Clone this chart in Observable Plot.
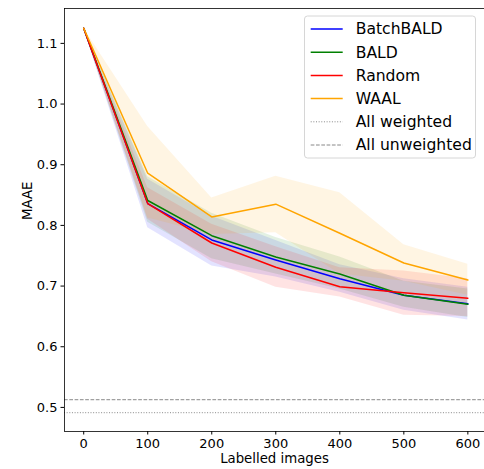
<!DOCTYPE html>
<html>
<head>
<meta charset="utf-8">
<script src="https://cdn.jsdelivr.net/npm/d3@7"></script>
<script src="https://cdn.jsdelivr.net/npm/@observablehq/plot@0.6"></script>
<style>
  html, body { margin: 0; padding: 0; background: #fff; }
  #wrap { position: relative; width: 484px; height: 469px; font-family: "DejaVu Sans", sans-serif; }
  #legend { position: absolute; left: 0; top: 0; }
</style>
</head>
<body>
<div id="wrap"><div id="chart"></div><svg id="legend" width="484" height="469"></svg></div>
<script>
const labelled = [0, 100, 200, 300, 400, 500, 600];
const seriesNames = ["BatchBALD", "BALD", "Random", "WAAL"];
const seriesColors = ["blue", "green", "red", "orange"];

const batchbaldMean = [1.125, 0.836, 0.776, 0.743, 0.712, 0.685, 0.671];
const batchbaldLo   = [1.125, 0.796, 0.733, 0.715, 0.690, 0.660, 0.644];
const batchbaldHi   = [1.125, 0.876, 0.815, 0.775, 0.735, 0.712, 0.698];

const baldMean = [1.125, 0.841, 0.783, 0.748, 0.720, 0.685, 0.670];
const baldLo   = [1.125, 0.805, 0.745, 0.720, 0.695, 0.665, 0.648];
const baldHi   = [1.125, 0.880, 0.820, 0.780, 0.748, 0.708, 0.695];

const randomMean = [1.125, 0.836, 0.771, 0.731, 0.699, 0.689, 0.680];
const randomLo   = [1.125, 0.810, 0.740, 0.698, 0.682, 0.652, 0.650];
const randomHi   = [1.125, 0.862, 0.802, 0.765, 0.730, 0.725, 0.712];

const waalMean = [1.125, 0.886, 0.814, 0.835, 0.787, 0.738, 0.710];
const waalLo   = [1.125, 0.812, 0.785, 0.788, 0.720, 0.708, 0.685];
const waalHi   = [1.125, 0.963, 0.845, 0.881, 0.854, 0.768, 0.736];

const allWeighted = 0.4913;
const allUnweighted = 0.5127;

const yTicks = [0.5, 0.6, 0.7, 0.8, 0.9, 1.0, 1.1];
const xTicks = [0, 100, 200, 300, 400, 500, 600];

const means = [batchbaldMean, baldMean, randomMean, waalMean];
const los = [batchbaldLo, baldLo, randomLo, waalLo];
const his = [batchbaldHi, baldHi, randomHi, waalHi];

const rows = [];
seriesNames.forEach((name, si) => {
  labelled.forEach((x, i) => {
    rows.push({series: name, x, mean: means[si][i], lo: los[si][i], hi: his[si][i]});
  });
});

const font = "DejaVu Sans";
const xDomain = [-30, 626];
const yDomain = [0.4603, 1.1575];

const plot = Plot.plot({
  width: 484,
  height: 469,
  marginLeft: 64,
  marginRight: 0,
  marginTop: 8,
  marginBottom: 38,
  style: {fontFamily: font, fontSize: "13px", color: "#000", background: "#fff"},
  x: {domain: xDomain},
  y: {domain: yDomain},
  color: {domain: seriesNames, range: seriesColors},
  marks: [
    ...seriesNames.map((name) => Plot.areaY(rows.filter(d => d.series === name), {
      x: "x", y1: "lo", y2: "hi", fill: "series", fillOpacity: 0.11
    })),
    ...seriesNames.map((name) => Plot.lineY(rows.filter(d => d.series === name), {
      x: "x", y: "mean", stroke: "series", strokeWidth: 1.5
    })),
    Plot.ruleY([allWeighted], {stroke: "#888", strokeWidth: 1, strokeDasharray: "1,1.65"}),
    Plot.ruleY([allUnweighted], {stroke: "#888", strokeWidth: 1, strokeDasharray: "3.7,1.6"}),
    Plot.axisY({ticks: yTicks, tickFormat: ".1f", tickSize: 3.5, tickPadding: 3.5, label: null, fontSize: 13}),
    Plot.axisX({ticks: xTicks, tickFormat: d => String(d), tickSize: 3.5, tickPadding: 3.5, label: null, fontSize: 13}),
    Plot.ruleX([xDomain[0]], {stroke: "#000", strokeWidth: 0.8}),
    Plot.ruleY([yDomain[0]], {stroke: "#000", strokeWidth: 0.8}),
    Plot.ruleY([yDomain[1]], {stroke: "#000", strokeWidth: 0.8}),
    Plot.text(["MAAE"], {frameAnchor: "left", dx: -36.5, rotate: -90, fontSize: 13.3, lineAnchor: "middle"}),
    Plot.text(["Labelled images"], {frameAnchor: "bottom", dy: 27, fontSize: 13.3, lineAnchor: "middle"})
  ]
});
document.getElementById("chart").appendChild(plot);

// Legend overlay
const legendItems = [
  ...seriesNames.map((n, i) => ({label: n, color: seriesColors[i], dash: null})),
  {label: "All weighted", color: "#888", dash: "1,1.65"},
  {label: "All unweighted", color: "#888", dash: "3.7,1.6"}
];
const lg = d3.select("#legend");
lg.append("rect").attr("x", 304.5).attr("y", 16).attr("width", 171).attr("height", 142)
  .attr("rx", 3).attr("fill", "rgba(255,255,255,0.8)").attr("stroke", "#d6d6d6").attr("stroke-width", 1);
legendItems.forEach((it, i) => {
  const y = 29 + i * 23.2;
  lg.append("line").attr("x1", 310.7).attr("x2", 342.7).attr("y1", y).attr("y2", y)
    .attr("stroke", it.color).attr("stroke-width", it.dash ? 1 : 1.5)
    .attr("stroke-dasharray", it.dash);
  lg.append("text").attr("x", 355.7).attr("y", y).attr("dy", "0.35em")
    .attr("font-family", font).attr("font-size", 15.6).attr("fill", "#000").text(it.label);
});
</script>
</body>
</html>
